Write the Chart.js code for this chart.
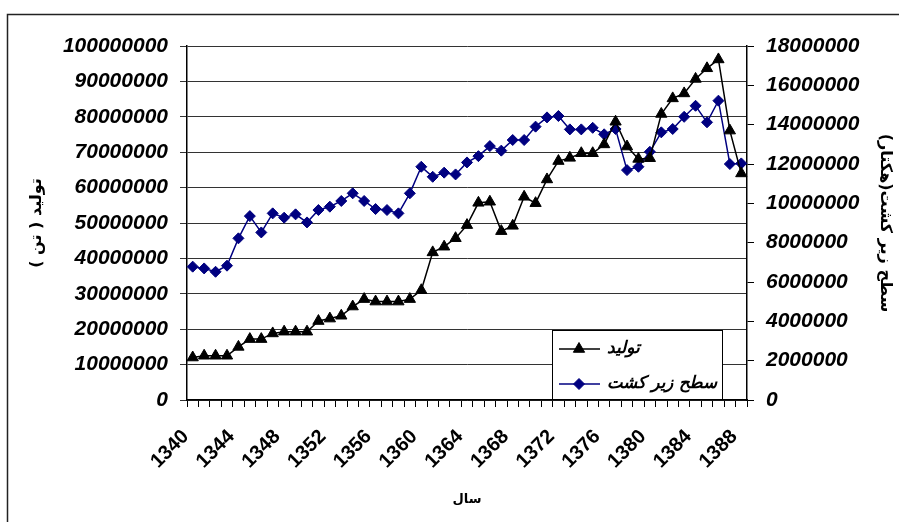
<!DOCTYPE html>
<html lang="fa">
<head>
  <meta charset="UTF-8">
  <title>تولید و سطح زیر کشت</title>
  <script src="https://cdn.jsdelivr.net/npm/chart.js"></script>
  <style>
    html, body { margin: 0; padding: 0; background: #fff; }
    canvas { display: block; }
  </style>
</head>
<body>
  <canvas id="prodChart" width="899" height="522"></canvas>

  <script>
    // years (solar hijri)
    const years = [
      '1340', '1341', '1342', '1343', '1344', '1345', '1346', '1347', '1348', '1349',
      '1350', '1351', '1352', '1353', '1354', '1355', '1356', '1357', '1358', '1359',
      '1360', '1361', '1362', '1363', '1364', '1365', '1366', '1367', '1368', '1369',
      '1370', '1371', '1372', '1373', '1374', '1375', '1376', '1377', '1378', '1379',
      '1380', '1381', '1382', '1383', '1384', '1385', '1386', '1387', '1388'
    ];

    // تولید (tonnes) - left axis
    const production = [
      12000000, 12500000, 12500000, 12500000, 15000000, 17200000, 17200000, 18800000, 19300000, 19300000,
      19300000, 22300000, 23000000, 23800000, 26400000, 28500000, 27800000, 27800000, 27800000, 28500000,
      31000000, 41700000, 43300000, 45700000, 49400000, 55700000, 56000000, 47700000, 49200000, 57400000,
      55600000, 62300000, 67500000, 68400000, 69700000, 69700000, 72200000, 78600000, 71600000, 68100000,
      68300000, 80800000, 85200000, 86600000, 90700000, 93700000, 96200000, 76100000, 64000000
    ];

    // سطح زیر کشت (hectares) - right axis
    const area = [
      6780000, 6690000, 6520000, 6830000, 8220000, 9350000, 8520000, 9490000, 9270000, 9440000,
      9030000, 9660000, 9830000, 10120000, 10510000, 10120000, 9710000, 9660000, 9490000, 10510000,
      11860000, 11350000, 11560000, 11470000, 12080000, 12400000, 12910000, 12680000, 13220000, 13220000,
      13900000, 14370000, 14440000, 13760000, 13760000, 13840000, 13510000, 13780000, 11690000, 11860000,
      12620000, 13610000, 13780000, 14400000, 14960000, 14120000, 15220000, 12000000, 12030000
    ];

    const leftTicks = { min: 0, max: 100000000, step: 10000000 };
    const rightTicks = { min: 0, max: 18000000, step: 2000000 };

    const numFont = { family: 'Liberation Sans, Arial, sans-serif', size: 21, weight: 'bold', style: 'italic' };
    const faFont = 'DejaVu Sans, sans-serif';

    // white page + the outer frame of the excel chart
    const frame = {
      id: 'frame',
      beforeDraw(chart) {
        const c = chart.ctx;
        c.save();
        c.fillStyle = '#fff';
        c.fillRect(0, 0, chart.width, chart.height);
        c.strokeStyle = '#222';
        c.lineWidth = 1.5;
        c.beginPath();
        c.moveTo(7.5, chart.height);
        c.lineTo(7.5, 14.5);
        c.lineTo(chart.width, 14.5);
        c.stroke();
        c.restore();
      }
    };

    // legend box inside the plot, like the original
    const boxLegend = {
      id: 'boxLegend',
      afterDraw(chart) {
        const c = chart.ctx;
        const x = 552, y = 330, w = 170, h = 69;
        c.save();
        c.fillStyle = '#fff';
        c.fillRect(x, y, w, h);
        c.strokeStyle = '#000';
        c.lineWidth = 1;
        c.strokeRect(x + 0.5, y + 0.5, w, h);
        chart.data.datasets.forEach((ds, i) => {
          const ly = y + 19 + i * 35;
          c.strokeStyle = ds.borderColor;
          c.lineWidth = ds.borderWidth;
          c.beginPath();
          c.moveTo(x + 7, ly);
          c.lineTo(x + 48, ly);
          c.stroke();
          c.fillStyle = ds.borderColor;
          c.lineWidth = 1;
          Chart.helpers.drawPoint(c, {
            pointStyle: ds.pointStyle, radius: ds.pointRadius, borderWidth: 1
          }, x + 27, ly);
          c.fillStyle = '#000';
          c.font = 'italic bold 17px ' + faFont;
          c.textBaseline = 'middle';
          c.textAlign = 'left';
          c.fillText(ds.label, x + 55, ly, w - 60);
        });
        c.restore();
      }
    };

    const ctx = document.getElementById('prodChart').getContext('2d');
    new Chart(ctx, {
      type: 'line',
      data: {
        labels: years,
        datasets: [
          {
            label: 'تولید',
            data: production,
            yAxisID: 'y',
            borderColor: '#000000',
            backgroundColor: '#000000',
            borderWidth: 1.5,
            pointStyle: 'triangle',
            pointRadius: 6.5,
            pointBorderWidth: 1
          },
          {
            label: 'سطح زیر کشت',
            data: area,
            yAxisID: 'y1',
            borderColor: '#000080',
            backgroundColor: '#000080',
            borderWidth: 1.5,
            pointStyle: 'rectRot',
            pointRadius: 5.5,
            pointBorderWidth: 1
          }
        ]
      },
      options: {
        responsive: false,
        animation: false,
        layout: { padding: { top: 46, left: 0, right: 0, bottom: 0 } },
        plugins: {
          legend: { display: false },
          tooltip: { enabled: false }
        },
        scales: {
          x: {
            offset: true,
            grid: { offset: true, drawOnChartArea: false, tickLength: 7, color: '#000' },
            border: { color: '#000', width: 1.5 },
            ticks: {
              autoSkip: false,
              minRotation: 45,
              maxRotation: 45,
              padding: 18,
              labelOffset: -7,
              color: '#000',
              font: { family: 'Liberation Sans, Arial, sans-serif', size: 20, weight: 'bold' },
              callback: (v, i) => (i % 4 === 0 ? years[i] : '')
            },
            title: {
              display: true,
              text: 'سال',
              color: '#000',
              font: { family: faFont, size: 13, weight: 'bold' },
              padding: { top: 0, bottom: 15 }
            },
            afterFit(s) { s.height = 122; }
          },
          y: {
            position: 'left',
            min: leftTicks.min,
            max: leftTicks.max,
            grid: { color: '#333', tickLength: 7 },
            border: { color: '#000', width: 1.5 },
            ticks: {
              stepSize: leftTicks.step,
              padding: 12,
              color: '#000',
              font: numFont,
              callback: v => String(v)
            },
            title: {
              display: true,
              text: 'تولید ( تن )',
              color: '#000',
              font: { family: faFont, size: 16, weight: 'bold' },
              padding: { top: 27, bottom: 0 }
            },
            afterFit(s) { s.width = 187; }
          },
          y1: {
            position: 'right',
            min: rightTicks.min,
            max: rightTicks.max,
            grid: { drawOnChartArea: false, tickLength: 7, color: '#000' },
            border: { color: '#000', width: 1.5 },
            ticks: {
              stepSize: rightTicks.step,
              padding: 12,
              color: '#000',
              font: numFont,
              callback: v => String(v)
            },
            title: {
              display: true,
              text: 'سطح زیر کشت(هکتار)',
              color: '#000',
              font: { family: faFont, size: 16, weight: 'bold' },
              padding: { top: 4, bottom: 0 }
            },
            afterFit(s) { s.width = 152; }
          }
        }
      },
      plugins: [frame, boxLegend]
    });
  </script>
</body>
</html>
